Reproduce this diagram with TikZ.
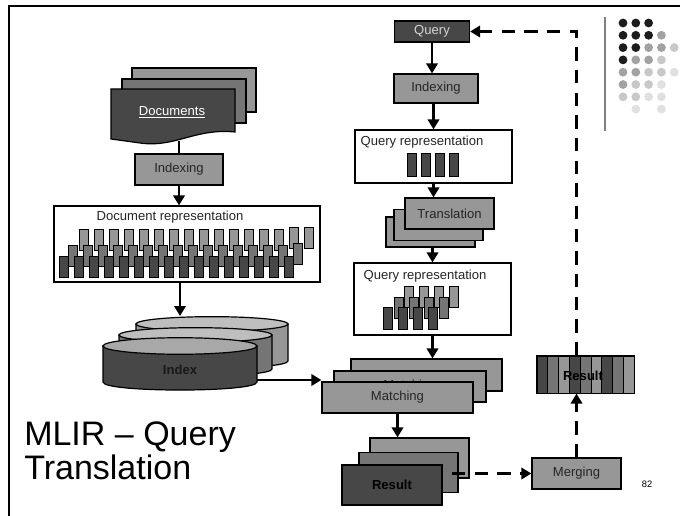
\documentclass[tikz,border=0pt]{standalone}
\usepackage{fontspec}
\setmainfont{Liberation Sans}
\usetikzlibrary{arrows.meta,calc}
\definecolor{dk}{HTML}{474747}
\definecolor{md}{HTML}{757575}
\definecolor{gy}{HTML}{979797}
\definecolor{lt}{HTML}{A8A8A8}
\definecolor{lt2}{HTML}{BEBEBE}
\definecolor{qtxt}{HTML}{D4D4D4}
\definecolor{dotk}{HTML}{1C1C1C}
\definecolor{dotg}{HTML}{A2A2A2}
\definecolor{dotl}{HTML}{C8C8C8}
\definecolor{dotv}{HTML}{E0E0E0}
\begin{document}
\begin{tikzpicture}[x=0.75pt,y=-0.75pt,
  lbl/.style={font=\fontsize{9.8}{11}\selectfont,text=black!85},
  box/.style={draw=black,line width=0.9pt,inner sep=0pt,lbl},
  arr/.style={line width=2.2pt,-{Triangle[length=7.5pt,width=8.5pt]}},
  plainln/.style={line width=2.2pt},
  dasharr/.style={line width=2.6pt,dash pattern=on 10pt off 7pt,-{Triangle[length=7.5pt,width=8.5pt]}},
  barr/.style={draw=black,line width=0.6pt},
  dot/.style={circle,inner sep=0pt,minimum size=6.6pt},
]
\useasboundingbox (0,0) rectangle (680,516);
% slide frame
\draw[line width=1.5pt] (9,516) -- (9,6) -- (680,6);
% decoration
\draw[line width=1.1pt,color=gray] (605,17) -- (605,131);
\foreach \r/\row in {0/{k,k,k,n,n},1/{k,k,k,g,n},2/{k,k,g,g,l},3/{k,g,g,l,n},4/{g,g,l,l,v},5/{g,l,l,v,n},6/{l,l,v,v,n},7/{n,v,n,v,n}}{
  \foreach \c [count=\j from 0] in \row {
    \if\c n\else
      \node[dot,fill=dot\c] (dot\r\j) at ({623+12.8*\j},{23+12.3*\r}) {};
    \fi
  }
}
% ---------- Documents ----------
\filldraw[fill=gy,line width=0.9pt] (132,68) rectangle (256,112);
\filldraw[fill=md,line width=0.9pt] (122,79) rectangle (246,123);
\filldraw[fill=dk,line width=0.9pt] (111,89) -- (235,89) -- (235,132)
  .. controls (195,128) and (175,148) .. (140,143) .. controls (125,141) .. (111,139) -- cycle;
\node[lbl,text=white] (docs) at (172,112) {\underline{Documents}};
\coordinate (docsB) at (179,141);
\node[box,fill=gy,minimum width=66pt,minimum height=23.25pt] (didx) at (179,169.5) {Indexing};
\draw[plainln] (docsB) -- (didx.north);
% document representation
\node[box,fill=white,minimum width=199.5pt,minimum height=57pt] (drep) at (187,244) {};
\node[lbl] (dreptxt) at (170,217) {Document representation};
\foreach \i in {0,...,13} \filldraw[barr,fill=gy] ({79+15*\i},229) rectangle ({88+15*\i},250);
\foreach \i in {14,15} \filldraw[barr,fill=gy] ({79+15*\i},227) rectangle ({88+15*\i},248);
\foreach \i in {0,...,14} \filldraw[barr,fill=md] ({68+15*\i},245) rectangle ({77+15*\i},266);
\filldraw[barr,fill=md] (293,243) rectangle (302,264);
\foreach \i in {0,...,15} \filldraw[barr,fill=dk] ({59+15*\i},256) rectangle ({68+15*\i},277);
\draw[arr] (didx.south) -- (didx.south |- drep.north);
% ---------- Index cylinders ----------
\filldraw[fill=gy,line width=0.9pt] (136,324) -- (136,361) .. controls (136,370.3) and (288,370.3) .. (288,361) -- (288,324) -- cycle;
\filldraw[fill=lt2,line width=0.9pt] (212,324) ellipse [x radius=57pt, y radius=5.5pt];
\filldraw[fill=md,line width=0.9pt] (119,335) -- (119,369) .. controls (119,378.3) and (272,378.3) .. (272,369) -- (272,335) -- cycle;
\filldraw[fill=lt2,line width=0.9pt] (195.5,335) ellipse [x radius=57.375pt, y radius=5.5pt];
\filldraw[fill=dk,line width=0.9pt] (103,346) -- (103,382) .. controls (103,392.7) and (257,392.7) .. (257,382) -- (257,346) -- cycle;
\filldraw[fill=lt,line width=0.9pt] (180,346) ellipse [x radius=57.75pt, y radius=6.2pt];
\node[lbl,font=\fontsize{9.8}{11}\selectfont\bfseries,text=black!90] (idx) at (180,370) {Index};
\coordinate (idxtop) at (180,316);
\draw[arr] (drep.south -| idxtop) -- (idxtop);
\coordinate (idxR) at (257,380);
% ---------- Query column ----------
\node[box,fill=dk,text=qtxt,minimum width=56.25pt,minimum height=15.75pt] (query) at (432,31.5) {Query};
\node[box,fill=gy,minimum width=63pt,minimum height=21.75pt] (qidx) at (436,88.5) {Indexing};
\draw[arr] (query.south) -- (query.south |- qidx.north);
\node[box,fill=white,minimum width=117.75pt,minimum height=39.75pt] (qrep1) at (433.5,156.5) {};
\node[lbl] (qrep1txt) at (422,142) {Query representation};
\foreach \x in {407,421,435,449} \filldraw[barr,fill=dk] (\x,153) rectangle ({\x+9},176);
\draw[arr] (qrep1.north |- qidx.south) -- (qrep1.north);
% translation stack
\node[box,fill=gy,minimum width=66.75pt,minimum height=22.5pt] (tback) at (430.5,232) {};
\node[box,fill=gy,minimum width=66.75pt,minimum height=23.25pt] (tmid) at (438.5,225) {};
\node[box,fill=gy,minimum width=66.75pt,minimum height=23.25pt] (tfront) at (449.5,213.5) {Translation};
\draw[arr] (qrep1.south) -- (qrep1.south |- tfront.north);
% query representation 2
\node[box,fill=white,minimum width=117.75pt,minimum height=54pt] (qrep2) at (432.5,299) {};
\node[lbl] (qrep2txt) at (425,276) {Query representation};
\foreach \x in {404,419,434,449} \filldraw[barr,fill=gy] (\x,286) rectangle ({\x+9},307);
\foreach \x in {394,409,424,439} \filldraw[barr,fill=md] (\x,297) rectangle ({\x+9},318);
\foreach \x in {383,398,413,428} \filldraw[barr,fill=dk] (\x,307) rectangle ({\x+9},329);
\draw[arr] (qrep2.north |- tback.south) -- (qrep2.north);
% matching stack
\node[box,fill=gy,minimum width=113.25pt,minimum height=24pt] (mback) at (426.5,375) {};
\node[box,fill=gy,minimum width=114pt,minimum height=23.25pt] (mmid) at (410,386.5) {Matching};
\node[box,fill=gy,minimum width=113.25pt,minimum height=23.25pt] (mfront) at (397.5,397.5) {Matching};
\draw[arr] (qrep2.south) -- (qrep2.south |- mback.north);
\draw[arr] (idxR) -- (idxR -| mfront.west);
% result stack
\node[box,fill=gy,minimum width=74.25pt,minimum height=30pt] (rback) at (419.5,458) {};
\node[box,fill=md,minimum width=74.25pt,minimum height=30pt] (rmid) at (408.5,472.5) {};
\node[box,fill=dk,minimum width=75pt,minimum height=30pt,font=\fontsize{9.8}{11}\selectfont\bfseries,text=black] (rfront) at (392,485) {Result};
\draw[arr] (mfront.south) -- (mfront.south |- rback.north);
% merging
\node[box,fill=gy,minimum width=66.75pt,minimum height=23.25pt] (merge) at (576.5,473.5) {Merging};
\coordinate (rstart) at (452,473.5);
\draw[dasharr] (rstart) -- (merge.west);
% result bar
\node[box,minimum width=72.75pt,minimum height=27.75pt] (rbar) at (585.5,374.5) {};
\foreach \k/\c in {0/dk,1/md,2/gy,3/dk,4/md,5/gy,6/dk,7/md,8/gy}
  \filldraw[fill=\c,line width=0.6pt] ({537+10.78*\k},356) rectangle ({537+10.78*(\k+1)},393);
\draw[line width=0.9pt] (rbar.south west) rectangle (rbar.north east);
\node[lbl,font=\fontsize{9.8}{11}\selectfont\bfseries,text=black] (rbartxt) at (583,376) {Result};
\draw[dasharr] (merge.north) -- (merge.north |- rbar.south);
\draw[dasharr] (rbar.north -| merge.north) |- (query.east);
% title and page number
\node[anchor=base west,inner sep=0pt,font=\fontsize{25.5}{28}\selectfont] (title1) at (24,445) {MLIR – Query};
\node[anchor=base west,inner sep=0pt,font=\fontsize{25.5}{28}\selectfont] (title2) at (24,479) {Translation};
\node[font=\fontsize{7}{8}\selectfont] (pnum) at (647,484) {82};
\end{tikzpicture}
\end{document}
